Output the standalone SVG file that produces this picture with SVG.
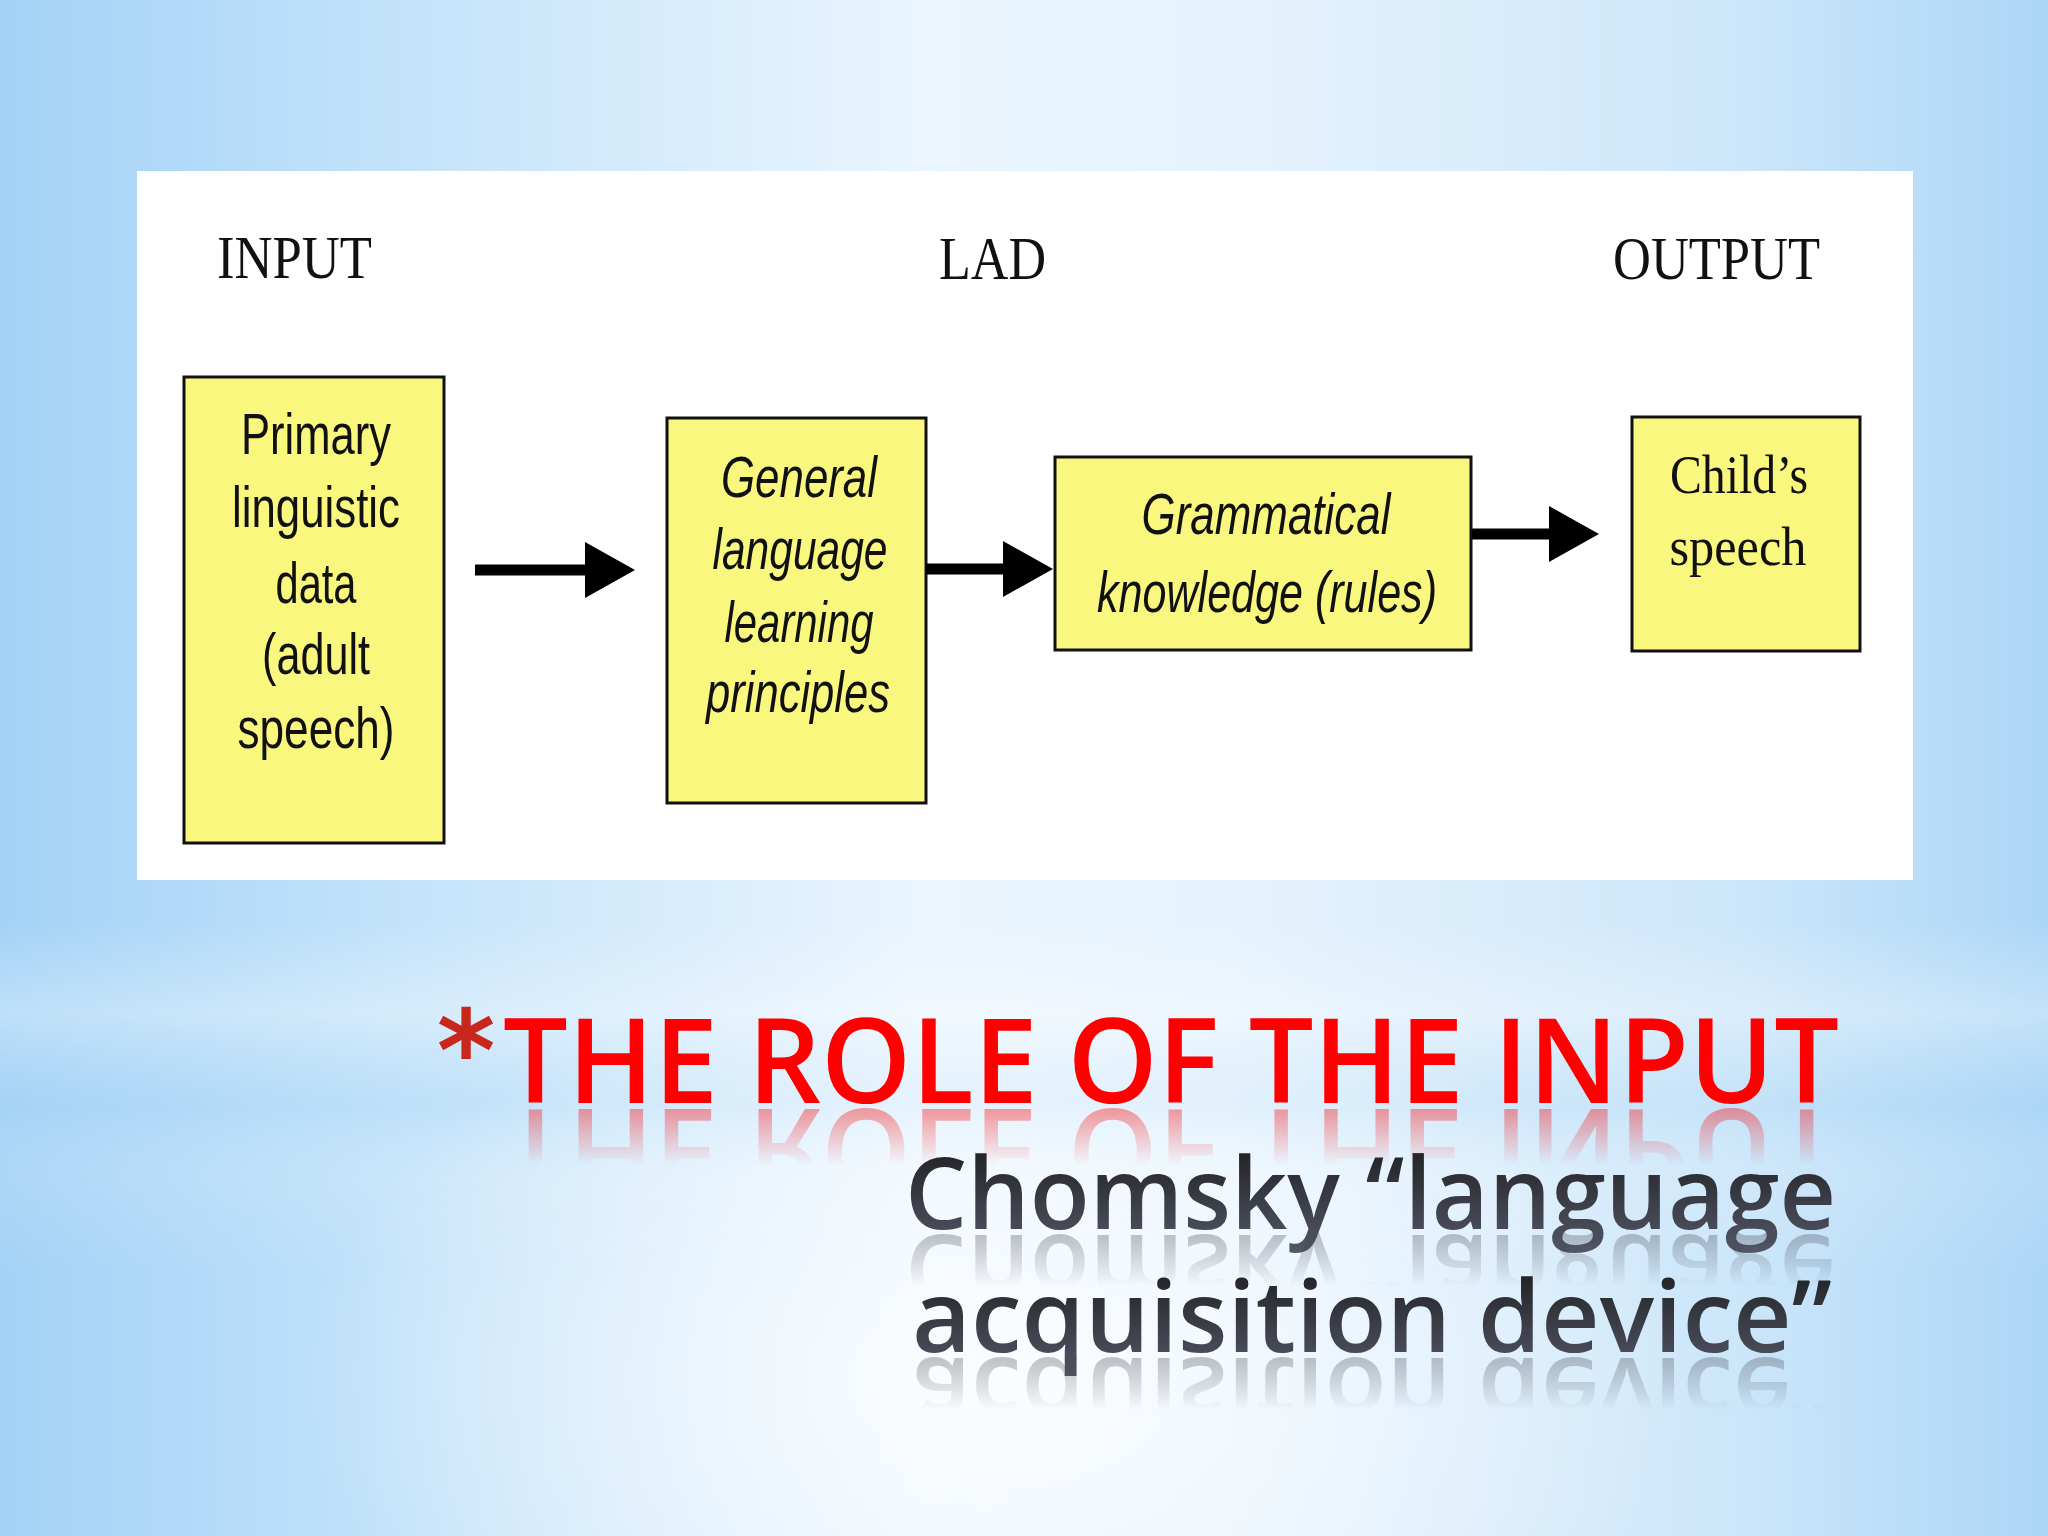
<svg xmlns="http://www.w3.org/2000/svg" xmlns:xlink="http://www.w3.org/1999/xlink" width="2048" height="1536" viewBox="0 0 2048 1536">
  <defs>
    <linearGradient id="bgH" x1="0" y1="0" x2="1" y2="0">
      <stop offset="0" stop-color="#a3d2f6"/>
      <stop offset="0.2" stop-color="#c4e3fa"/>
      <stop offset="0.45" stop-color="#eaf5fe"/>
      <stop offset="0.6" stop-color="#e6f3fd"/>
      <stop offset="0.85" stop-color="#cce6fa"/>
      <stop offset="1" stop-color="#acd6f6"/>
    </linearGradient>
    <linearGradient id="bgV" x1="0" y1="0" x2="0" y2="1">
      <stop offset="0" stop-color="#ffffff" stop-opacity="0"/>
      <stop offset="0.6" stop-color="#ffffff" stop-opacity="0"/>
      <stop offset="0.66" stop-color="#ffffff" stop-opacity="0.3"/>
      <stop offset="0.72" stop-color="#a9d5f5" stop-opacity="0.22"/>
      <stop offset="0.77" stop-color="#ffffff" stop-opacity="0.1"/>
      <stop offset="0.83" stop-color="#ffffff" stop-opacity="0"/>
      <stop offset="1" stop-color="#ffffff" stop-opacity="0"/>
    </linearGradient>
    <radialGradient id="bgR" cx="1000" cy="1380" r="700" gradientUnits="userSpaceOnUse" gradientTransform="translate(1000 1380) scale(1 0.6) translate(-1000 -1380)">
      <stop offset="0" stop-color="#ffffff" stop-opacity="0.8"/>
      <stop offset="1" stop-color="#ffffff" stop-opacity="0"/>
    </radialGradient>
    <linearGradient id="subFill" x1="0" y1="0" x2="0" y2="1">
      <stop offset="0" stop-color="#151515"/>
      <stop offset="1" stop-color="#565a6a"/>
    </linearGradient>
    <linearGradient id="fadeT" gradientUnits="userSpaceOnUse" x1="0" y1="1106" x2="0" y2="1165">
      <stop offset="0" stop-color="#fff" stop-opacity="0.4"/>
      <stop offset="1" stop-color="#fff" stop-opacity="0"/>
    </linearGradient>
    <linearGradient id="fade1" gradientUnits="userSpaceOnUse" x1="0" y1="1232" x2="0" y2="1286">
      <stop offset="0" stop-color="#fff" stop-opacity="0.35"/>
      <stop offset="1" stop-color="#fff" stop-opacity="0"/>
    </linearGradient>
    <linearGradient id="fade2" gradientUnits="userSpaceOnUse" x1="0" y1="1355" x2="0" y2="1410">
      <stop offset="0" stop-color="#fff" stop-opacity="0.35"/>
      <stop offset="1" stop-color="#fff" stop-opacity="0"/>
    </linearGradient>
    <mask id="mT" maskUnits="userSpaceOnUse" x="0" y="0" width="2048" height="1536">
      <rect x="400" y="1106" width="1500" height="70" fill="url(#fadeT)"/>
    </mask>
    <mask id="m1" maskUnits="userSpaceOnUse" x="0" y="0" width="2048" height="1536">
      <rect x="800" y="1232" width="1100" height="60" fill="url(#fade1)"/>
    </mask>
    <mask id="m2" maskUnits="userSpaceOnUse" x="0" y="0" width="2048" height="1536">
      <rect x="800" y="1355" width="1100" height="60" fill="url(#fade2)"/>
    </mask>
    <marker id="head" markerUnits="userSpaceOnUse" markerWidth="50" markerHeight="56" refX="5" refY="28" orient="auto">
      <path d="M0,0 L50,28 L0,56 Z" fill="#000"/>
    </marker>
    <style>
      .box { fill: #f9f77e; stroke: #111; stroke-width: 3; }
      .hdr { font-family: "Liberation Serif", serif; font-size: 62px; fill: #111; }
      .sans { font-family: "Liberation Sans", Arial, sans-serif; font-size: 58px; fill: #111; }
      .ital { font-style: italic; }
      .serif { font-family: "Liberation Serif", serif; font-size: 54px; fill: #111; }
      .arrow { stroke: #000; stroke-width: 11; fill: none; marker-end: url(#head); }
      .title { font-family: "Open Sans", "Liberation Sans", sans-serif; font-weight: 600; font-size: 117px; fill: #ff0000; }
      .sub { font-family: "Open Sans", "Liberation Sans", sans-serif; font-weight: 600; font-size: 100px; fill: url(#subFill); }
    </style>
  </defs>

  <!-- background -->
  <rect x="0" y="0" width="2048" height="1536" fill="url(#bgH)"/>
  <rect x="0" y="0" width="2048" height="1536" fill="url(#bgV)"/>
  <rect x="0" y="0" width="2048" height="1536" fill="url(#bgR)"/>

  <!-- white diagram panel -->
  <rect x="137" y="171" width="1776" height="709" fill="#ffffff"/>

  <!-- headers -->
  <g id="headers">
    <text class="hdr" x="217" y="278" textLength="155" lengthAdjust="spacingAndGlyphs">INPUT</text>
    <text class="hdr" x="939" y="279" textLength="107" lengthAdjust="spacingAndGlyphs">LAD</text>
    <text class="hdr" x="1613" y="279" textLength="207" lengthAdjust="spacingAndGlyphs">OUTPUT</text>
  </g>

  <g id="node-primary">
    <rect class="box" x="184" y="377" width="260" height="466"/>
    <text class="sans" text-anchor="middle" x="316" y="454" textLength="150" lengthAdjust="spacingAndGlyphs">Primary</text>
    <text class="sans" text-anchor="middle" x="316" y="527" textLength="168" lengthAdjust="spacingAndGlyphs">linguistic</text>
    <text class="sans" text-anchor="middle" x="316" y="603" textLength="81" lengthAdjust="spacingAndGlyphs">data</text>
    <text class="sans" text-anchor="middle" x="316" y="674" textLength="108" lengthAdjust="spacingAndGlyphs">(adult</text>
    <text class="sans" text-anchor="middle" x="316" y="748" textLength="157" lengthAdjust="spacingAndGlyphs">speech)</text>
  </g>

  <g id="node-general">
    <rect class="box" x="667" y="418" width="259" height="385"/>
    <text class="sans ital" text-anchor="middle" x="799" y="497" textLength="156" lengthAdjust="spacingAndGlyphs">General</text>
    <text class="sans ital" text-anchor="middle" x="800" y="569" textLength="175" lengthAdjust="spacingAndGlyphs">language</text>
    <text class="sans ital" text-anchor="middle" x="799" y="642" textLength="149" lengthAdjust="spacingAndGlyphs">learning</text>
    <text class="sans ital" text-anchor="middle" x="798" y="712" textLength="184" lengthAdjust="spacingAndGlyphs">principles</text>
  </g>

  <g id="node-grammatical">
    <rect class="box" x="1055" y="457" width="416" height="193"/>
    <text class="sans ital" text-anchor="middle" x="1266" y="534" textLength="249" lengthAdjust="spacingAndGlyphs">Grammatical</text>
    <text class="sans ital" text-anchor="middle" x="1267" y="612" textLength="340" lengthAdjust="spacingAndGlyphs">knowledge (rules)</text>
  </g>

  <g id="node-child">
    <rect class="box" x="1632" y="417" width="228" height="234"/>
    <text class="serif" text-anchor="middle" x="1739" y="493" textLength="138" lengthAdjust="spacingAndGlyphs">Child’s</text>
    <text class="serif" text-anchor="middle" x="1738" y="565" textLength="137" lengthAdjust="spacingAndGlyphs">speech</text>
  </g>

  <g id="connectors">
    <line class="arrow" x1="475" y1="570" x2="590" y2="570"/>
    <line class="arrow" x1="926" y1="569" x2="1008" y2="569"/>
    <line class="arrow" x1="1472" y1="534" x2="1554" y2="534"/>
  </g>

  <!-- title -->
  <g id="title">
    <text x="466" y="1090" text-anchor="middle" font-family="DejaVu Sans, sans-serif" font-weight="bold" font-size="112" fill="#c9261c">*</text>
    <text id="titleText" class="title" x="503" y="1103" textLength="1336" lengthAdjust="spacingAndGlyphs">THE ROLE OF THE INPUT</text>
    <g mask="url(#mT)">
      <use xlink:href="#titleText" href="#titleText" transform="matrix(1 0 0 -1 0 2212)"/>
    </g>
  </g>

  <g id="subtitle">
    <text id="sub1" class="sub" x="905" y="1229" textLength="931" lengthAdjust="spacingAndGlyphs">Chomsky “language</text>
    <text id="sub2" class="sub" x="912" y="1352" textLength="920" lengthAdjust="spacingAndGlyphs">acquisition device”</text>
    <g mask="url(#m1)">
      <use xlink:href="#sub1" href="#sub1" transform="matrix(1 0 0 -1 0 2464)"/>
    </g>
    <g mask="url(#m2)">
      <use xlink:href="#sub2" href="#sub2" transform="matrix(1 0 0 -1 0 2710)"/>
    </g>
  </g>
</svg>
